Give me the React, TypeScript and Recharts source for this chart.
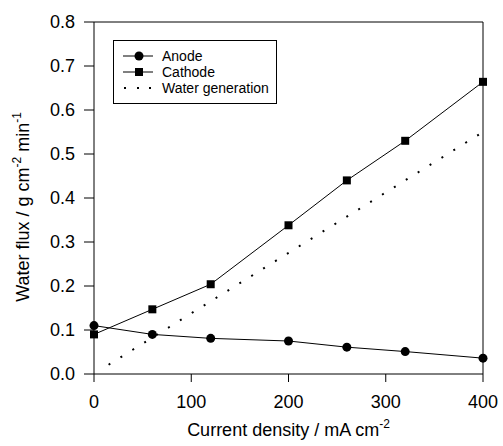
import { LineChart, Line, XAxis, YAxis, Legend } from 'recharts';

const currentDensity = [0, 60, 120, 200, 260, 320, 400];
const anodeFlux = [0.11, 0.09, 0.081, 0.075, 0.061, 0.051, 0.036];
const cathodeFlux = [0.09, 0.147, 0.204, 0.338, 0.44, 0.53, 0.664];
const generationDensity = [15, 400];
const generationFlux = [0.021, 0.55];
const xTicks = [0, 100, 200, 300, 400];
const yTicks = [0, 0.1, 0.2, 0.3, 0.4, 0.5, 0.6, 0.7, 0.8];

const anodeData = currentDensity.map((x, i) => ({ x, y: anodeFlux[i] }));
const cathodeData = currentDensity.map((x, i) => ({ x, y: cathodeFlux[i] }));
const generationData = generationDensity.map((x, i) => ({ x, y: generationFlux[i] }));

const font = '"Liberation Sans", Arial, sans-serif';

const SquareDot = (props: any) => {
  const { cx, cy } = props;
  if (cx == null || cy == null) return null;
  return <rect x={cx - 4} y={cy - 4} width={8} height={8} fill="#000" />;
};

const XTitle = (props: any) => {
  const vb = props.viewBox || {};
  const cx = vb.x + vb.width / 2;
  return (
    <text x={cx} y={436} textAnchor="middle" fontSize={18} fontFamily={font} fill="#000">
      <tspan>Current density / mA cm</tspan>
      <tspan dy={-8} fontSize={12}>-2</tspan>
    </text>
  );
};

const YTitle = () => {
  const x = 29;
  const y = 207;
  return (
    <text x={x} y={y} transform={`rotate(-90 ${x} ${y})`} textAnchor="middle" fontSize={18} fontFamily={font} fill="#000">
      <tspan>Water flux / g cm</tspan>
      <tspan dy={-8} fontSize={12}>-2</tspan>
      <tspan dy={8}> min</tspan>
      <tspan dy={-8} fontSize={12}>-1</tspan>
    </text>
  );
};

const LegendBox = (props: any) => {
  const items = props.payload || [];
  return (
    <div
      style={{
        border: '1px solid #000',
        width: 164,
        height: 64,
        boxSizing: 'border-box',
        padding: '7px 0 0 9px',
        fontFamily: font,
        fontSize: 14,
        color: '#000',
        background: '#fff',
      }}
    >
      {items.map((it: any, i: number) => (
        <div key={i} style={{ display: 'flex', alignItems: 'center', height: 16 }}>
          <svg width={30} height={12} style={{ marginRight: 9 }}>
            {i === 2 ? (
              [2, 15, 27].map((px) => <rect key={px} x={px - 1} y={5} width={2} height={2} fill="#000" />)
            ) : (
              <>
                <line x1={0} y1={6} x2={30} y2={6} stroke="#000" strokeWidth={1} />
                {i === 0 ? <circle cx={16} cy={6} r={4.5} fill="#000" /> : <rect x={12} y={2} width={8} height={8} fill="#000" />}
              </>
            )}
          </svg>
          <span style={{ lineHeight: '16px' }}>{it.value}</span>
        </div>
      ))}
    </div>
  );
};

export default function App() {
  return (
    <div style={{ position: 'absolute', left: 0, top: 0, background: '#fff' }}>
      <LineChart width={503} height={446} margin={{ top: 21, right: 19, bottom: 0, left: 0 }}>
        <XAxis
          xAxisId="b"
          dataKey="x"
          type="number"
          domain={[0, 400]}
          ticks={xTicks}
          height={72}
          tickSize={8}
          tickMargin={13}
          stroke="#000"
          tick={{ fill: '#000', fontSize: 18, fontFamily: font }}
          label={{ content: (p: any) => <XTitle {...p} /> }}
        />
        <XAxis xAxisId="t" orientation="top" type="number" domain={[0, 400]} height={1} tick={false} tickLine={false} stroke="#000" />
        <YAxis
          yAxisId="l"
          type="number"
          domain={[0, 0.8]}
          ticks={yTicks}
          width={94}
          tickSize={10}
          tickMargin={9}
          stroke="#000"
          tickFormatter={(v: number) => v.toFixed(1)}
          tick={{ fill: '#000', fontSize: 18, fontFamily: font }}
          label={{ content: () => <YTitle /> }}
        />
        <YAxis yAxisId="r" orientation="right" type="number" domain={[0, 0.8]} width={1} tick={false} tickLine={false} stroke="#000" />
        <Legend
          layout="horizontal"
          verticalAlign="middle"
          align="center"
          content={<LegendBox />}
          wrapperStyle={{ position: 'absolute', left: 113, top: 40, width: 'auto', height: 'auto' }}
        />
        <Line
          xAxisId="b"
          yAxisId="l"
          data={anodeData}
          dataKey="y"
          name="Anode"
          stroke="#000"
          strokeWidth={1}
          dot={{ r: 4.5, fill: '#000', stroke: '#000', strokeWidth: 0 }}
          isAnimationActive={false}
        />
        <Line
          xAxisId="b"
          yAxisId="l"
          data={cathodeData}
          dataKey="y"
          name="Cathode"
          stroke="#000"
          strokeWidth={1}
          dot={<SquareDot />}
          isAnimationActive={false}
        />
        <Line
          xAxisId="b"
          yAxisId="l"
          data={generationData}
          dataKey="y"
          name="Water generation"
          stroke="#000"
          strokeWidth={2}
          strokeDasharray="2 12"
          dot={false}
          isAnimationActive={false}
        />
      </LineChart>
    </div>
  );
}
